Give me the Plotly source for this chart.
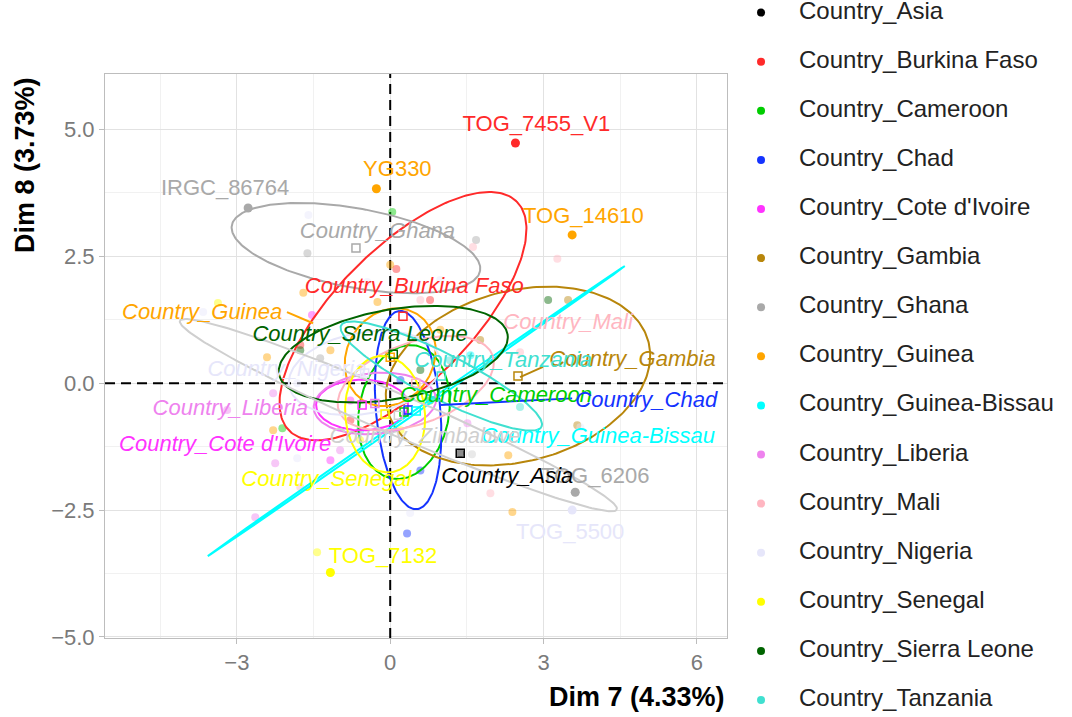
import numpy as np
import plotly.graph_objects as go

# ---- groups and colours -------------------------------------------------
groups = ["Country_Asia", "Country_Burkina Faso", "Country_Cameroon", "Country_Chad",
          "Country_Cote d'Ivoire", "Country_Gambia", "Country_Ghana", "Country_Guinea",
          "Country_Guinea-Bissau", "Country_Liberia", "Country_Mali", "Country_Nigeria",
          "Country_Senegal", "Country_Sierra Leone", "Country_Tanzania", "Country_Zimbabwe"]
colors = ["#000000", "#FF2A2A", "#00CD00", "#1433FF", "#FF33FF", "#B8860B", "#A9A9A9",
          "#FFA500", "#00FFFF", "#EE82EE", "#FFB6C1", "#E6E6FA", "#FFFF00", "#006400",
          "#40E0D0", "#CFCFCF"]

# ---- individual coordinates (Dim 7, Dim 8) per group ---------------------
ind_x = {
    "Country_Asia": [1.37],
    "Country_Burkina Faso": [2.45, 0.12, 0.78, -0.78, -1.76],
    "Country_Cameroon": [0.04, -2.11, 0.78],
    "Country_Chad": [0.33, 0.59, 0.20],
    "Country_Cote d'Ivoire": [-1.53, -1.17, -0.78],
    "Country_Gambia": [3.48, 3.66, 1.76],
    "Country_Ghana": [-2.78, -1.62, 1.68, 3.62, -1.37],
    "Country_Guinea": [-0.27, 3.56, 0.00, -1.70, -0.25, -2.41, -1.17, -2.29, 2.31, 2.39, 0.98],
    "Country_Guinea-Bissau": [-0.59, 1.57],
    "Country_Liberia": [-2.29, -3.19, -2.25, -0.98, -2.64, 1.51],
    "Country_Mali": [1.62, 3.27, 2.54, -1.76, 1.96, 0.59],
    "Country_Nigeria": [-1.60, -0.45, -3.66, -1.82, -1.82, 3.72, 3.56, 0.39, 0.98],
    "Country_Senegal": [-3.37, -1.43, -1.17, -0.59, 0.20],
    "Country_Sierra Leone": [3.09, -1.76, 0.59],
    "Country_Tanzania": [2.54, 1.17],
    "Country_Zimbabwe": [-0.20, 1.60],
}
ind_y = {
    "Country_Asia": [-1.38],
    "Country_Burkina Faso": [4.73, 2.25, 1.64, -0.73, 0.75],
    "Country_Cameroon": [3.37, -0.89, -0.34],
    "Country_Chad": [-2.96, -1.72, 0.06],
    "Country_Cote d'Ivoire": [1.34, -1.52, -0.34],
    "Country_Gambia": [1.64, -0.83, 0.85],
    "Country_Ghana": [3.45, 2.56, 2.82, -2.15, 0.49],
    "Country_Guinea": [3.83, 2.92, 2.33, 1.78, 1.60, 0.51, 0.65, -0.93, -1.42, -2.54, 1.05],
    "Country_Guinea-Bissau": [-0.93, 0.55],
    "Country_Liberia": [-0.20, -0.53, -1.58, -1.32, -2.64, -0.79],
    "Country_Mali": [2.68, 2.45, 0.61, -2.05, -2.17, 1.64],
    "Country_Nigeria": [3.31, 1.99, 1.40, 0.00, -1.48, -0.87, -2.50, -2.56, 2.03],
    "Country_Senegal": [1.58, -3.33, -3.73, -1.12, -0.93],
    "Country_Sierra Leone": [1.64, 0.65, 0.26],
    "Country_Tanzania": [-0.47, 0.45],
    "Country_Zimbabwe": [-0.93, -1.40],
}

# highlighted individuals: name, group, coordinates
hl_names = ["TOG_7455_V1", "YG330", "TOG_14610", "IRGC_86764", "TOG_7132", "TOG_5500", "TOG_6206"]
hl_group = ["Country_Burkina Faso", "Country_Guinea", "Country_Guinea", "Country_Ghana",
            "Country_Senegal", "Country_Nigeria", "Country_Ghana"]
hl_x = [2.45, -0.27, 3.56, -2.78, -1.17, 3.56, 3.62]
hl_y = [4.73, 3.83, 2.92, 3.45, -3.73, -2.50, -2.15]

# group barycentres and concentration ellipses (centre, semi-axes, angle in degrees)
ctr_x = [1.37, 0.25, 0.27, 0.35, -0.55, 2.50, -0.67, 0.00, 0.51, -0.30, 0.50, -0.50, -0.10, 0.06, 1.00, 0.16]
ctr_y = [-1.38, 1.32, -0.57, -0.53, -0.43, 0.14, 2.66, 0.51, -0.55, -0.40, 0.00, 0.20, -0.61, 0.57, 0.14, -0.63]
ell_a = [0.0, 3.17, 1.33, 1.96, 0.90, 2.64, 2.47, 1.00, 4.98, 1.20, 1.60, 1.50, 1.15, 2.27, 2.20, 4.66]
ell_b = [0.0, 1.33, 0.88, 0.63, 0.50, 1.68, 0.78, 0.85, 0.03, 0.60, 0.80, 0.80, 0.78, 0.88, 0.45, 0.40]
ell_angle = [0, 45.5, 80, 95, 0, 15, -10.5, 60, 35, 5, 20, 10, 95, 10, -27, -23.5]

x_range = [-5.58, 6.59]
y_range = [-5.02, 6.09]

# ---- label placement (repelled positions) --------------------------------
hl_label_xy = [(2.86, 5.07), (0.14, 4.18), (3.78, 3.27), (-3.23, 3.81),
               (-0.14, -3.43), (3.52, -2.96), (4.01, -1.85)]
grp_label_xy = {
    "Country_Asia": (2.29, -1.85),
    "Country_Burkina Faso": (0.47, 1.89),
    "Country_Cameroon": (2.07, -0.26),
    "Country_Chad": (5.01, -0.36),
    "Country_Cote d'Ivoire": (-3.23, -1.22),
    "Country_Gambia": (4.74, 0.45),
    "Country_Ghana": (-0.25, 2.96),
    "Country_Guinea": (-3.68, 1.38),
    "Country_Guinea-Bissau": (4.07, -1.07),
    "Country_Liberia": (-3.13, -0.51),
    "Country_Mali": (3.48, 1.18),
    "Country_Nigeria": (-2.02, 0.24),
    "Country_Senegal": (-1.25, -1.91),
    "Country_Sierra Leone": (-0.59, 0.93),
    "Country_Tanzania": (2.21, 0.43),
    "Country_Zimbabwe": (0.68, -1.07),
}
leader_segments = {
    "Country_Guinea": [(-2.02, 1.40), (-1.51, 1.18)],
    "Country_Gambia": [(2.99, 0.32), (2.54, 0.12)],
    "Country_Chad": [(3.56, -0.30), (0.98, -0.43)],
}

FONT = "Liberation Sans, Arial, sans-serif"
col = dict(zip(groups, colors))


def ellipse(cx, cy, a, b, ang, n=240):
    t = np.linspace(0, 2 * np.pi, n)
    th = np.deg2rad(ang)
    ex = a * np.cos(t)
    ey = b * np.sin(t)
    return cx + ex * np.cos(th) - ey * np.sin(th), cy + ex * np.sin(th) + ey * np.cos(th)


fig = go.Figure()

# faded individual points
for g in groups:
    fig.add_trace(go.Scatter(x=ind_x[g], y=ind_y[g], mode="markers",
                             marker=dict(color=col[g], size=8, opacity=0.45),
                             hoverinfo="skip", xaxis="x", yaxis="y"))

# highlighted individuals
fig.add_trace(go.Scatter(x=hl_x, y=hl_y, mode="markers",
                         marker=dict(color=[col[g] for g in hl_group], size=9),
                         hoverinfo="skip"))

# concentration ellipses
for i, g in enumerate(groups):
    if ell_a[i] <= 0:
        continue
    ex, ey = ellipse(ctr_x[i], ctr_y[i], ell_a[i], ell_b[i], ell_angle[i])
    fig.add_trace(go.Scatter(x=ex, y=ey, mode="lines",
                             line=dict(color=col[g], width=2), hoverinfo="skip"))

# barycentres
fig.add_trace(go.Scatter(x=ctr_x, y=ctr_y, mode="markers",
                         marker=dict(symbol="square-open", size=8, color=colors,
                                     line=dict(width=1.5)),
                         hoverinfo="skip"))

# leader segments
for g, seg in leader_segments.items():
    fig.add_trace(go.Scatter(x=[seg[0][0], seg[1][0]], y=[seg[0][1], seg[1][1]], mode="lines",
                             line=dict(color=col[g], width=2), hoverinfo="skip"))

# individual labels
fig.add_trace(go.Scatter(x=[p[0] for p in hl_label_xy], y=[p[1] for p in hl_label_xy],
                         mode="text", text=hl_names, textposition="middle center",
                         textfont=dict(family=FONT, size=22, color=[col[g] for g in hl_group]),
                         hoverinfo="skip"))

# group labels (italic)
fig.add_trace(go.Scatter(x=[grp_label_xy[g][0] for g in groups],
                         y=[grp_label_xy[g][1] for g in groups],
                         mode="text", text=[f"<i>{g}</i>" for g in groups],
                         textposition="middle center",
                         textfont=dict(family=FONT, size=22, color=colors),
                         hoverinfo="skip"))

# legend column drawn on its own axes so that overflowing entries are clipped
leg_idx = [-i for i in range(len(groups))]
fig.add_trace(go.Scatter(x=[761] * len(groups), y=leg_idx, mode="markers",
                         marker=dict(color=colors, size=8), xaxis="x2", yaxis="y2",
                         hoverinfo="skip"))
fig.add_trace(go.Scatter(x=[799] * len(groups), y=leg_idx, mode="text", text=groups,
                         textposition="middle right",
                         textfont=dict(family=FONT, size=24, color="#222222"),
                         xaxis="x2", yaxis="y2", hoverinfo="skip"))

# reference lines through the origin
fig.add_shape(type="line", xref="x", yref="y", x0=0, x1=0, y0=y_range[0], y1=y_range[1],
              line=dict(color="black", width=2, dash="10px,6px"), layer="between")
fig.add_shape(type="line", xref="x", yref="y", x0=x_range[0], x1=x_range[1], y0=0, y1=0,
              line=dict(color="black", width=2, dash="10px,6px"), layer="between")

axis_common = dict(showgrid=True, gridcolor="#E2E2E2", gridwidth=1, zeroline=False,
                   showline=True, mirror=True, linecolor="#BDBDBD", linewidth=1,
                   ticks="outside", ticklen=5, tickcolor="#BDBDBD", automargin=False,
                   tickfont=dict(family=FONT, size=22, color="#7A7A7A"))

fig.update_layout(
    width=1072, height=717,
    margin=dict(l=105, r=5, t=0, b=0, autoexpand=False),
    plot_bgcolor="white", paper_bgcolor="white",
    showlegend=False,
    font=dict(family=FONT),
    xaxis=dict(domain=[0, 0.6466], range=x_range, tickmode="array",
               tickvals=[-3, 0, 3, 6], ticktext=["\u22123", "0", "3", "6"],
               minor=dict(tickvals=[-4.5, -1.5, 1.5, 4.5], showgrid=True,
                          gridcolor="#F1F1F1", ticks=""),
               **axis_common),
    yaxis=dict(domain=[0.1102, 0.8968], range=y_range, tickmode="array",
               tickvals=[-5, -2.5, 0, 2.5, 5],
               ticktext=["\u22125.0", "\u22122.5", "0.0", "2.5", "5.0"],
               minor=dict(tickvals=[-3.75, -1.25, 1.25, 3.75], showgrid=True,
                          gridcolor="#F1F1F1", ticks=""),
               **axis_common),
    xaxis2=dict(domain=[0.6466, 1.0], range=[727, 1067], visible=False, anchor="y2",
                automargin=False),
    yaxis2=dict(domain=[0, 1], range=[-14.346, 0.2566], visible=False, anchor="x2",
                automargin=False),
    annotations=[
        dict(text="<b>Dim 7 (4.33%)</b>", xref="paper", yref="paper", x=0.6466, y=1 - 697 / 717,
             xanchor="right", yanchor="middle", showarrow=False,
             font=dict(family=FONT, size=27, color="black")),
        dict(text="<b>Dim 8 (3.73%)</b>", xref="paper", yref="paper", x=(25 - 105) / 962,
             y=1 - 75 / 717, xanchor="center", yanchor="top", textangle=-90, showarrow=False,
             font=dict(family=FONT, size=27, color="black")),
    ],
)

fig.write_html("out.html")
